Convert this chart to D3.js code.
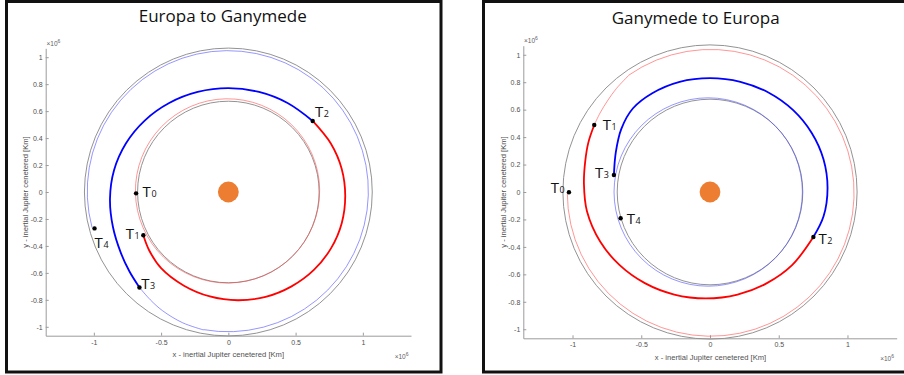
<!DOCTYPE html>
<html>
<head>
<meta charset="utf-8">
<script src="https://cdn.jsdelivr.net/npm/d3@7"></script>
<style>
  body { margin: 0; background: #fff; }
  svg { display: block; }
</style>
</head>
<body>
<svg id="chart" width="904" height="375"></svg>
<script>
// ---- axes (values in units of 10^6 km) ----
const xLim = [-1.358, 1.358];
const yLim = [-1.066, 1.066];
const xTicks = [-1, -0.5, 0, 0.5, 1];
const yTicks = [-1, -0.8, -0.6, -0.4, -0.2, 0, 0.2, 0.4, 0.6, 0.8, 1];
const titles = ["Europa to Ganymede", "Ganymede to Europa"];
const xLabel = "x - inertial Jupiter cenetered [Km]";
const yLabel = "y - inertial Jupiter cenetered [Km]";

// ---- moon orbits around Jupiter (radius) ----
const europaOrbitR = 0.675;
const ganymedeOrbitR = 1.07;

// ---- Europa to Ganymede ----
// transfer leg T1 -> T2
const e2gTransfer = [
  [-0.632, -0.321], [-0.59, -0.43], [-0.50, -0.565], [-0.33, -0.695],
  [-0.137, -0.775], [0.07, -0.803], [0.277, -0.778], [0.47, -0.70],
  [0.636, -0.578], [0.763, -0.418], [0.843, -0.231], [0.869, -0.03],
  [0.843, 0.171], [0.763, 0.358], [0.627, 0.527]
];
// approach leg T2 -> T3
const e2gApproach = [
  [0.627, 0.527], [0.44, 0.66], [0.228, 0.742], [0.0, 0.77],
  [-0.228, 0.742], [-0.44, 0.66], [-0.622, 0.53], [-0.762, 0.36],
  [-0.85, 0.162], [-0.88, -0.05], [-0.858, -0.26], [-0.80, -0.45],
  [-0.735, -0.59], [-0.661, -0.708]
];
// Europa-following loop T0 -> T1 (centre x, centre y, radius, start deg, end deg)
const e2gEuropaLoop = [-0.006, 0.008, 0.685, 181, 567];
// Ganymede-following loop after T3, ending at T4
const e2gGanymedeEntry = [
  [-0.661, -0.708], [-0.58, -0.80], [-0.49, -0.88], [-0.34, -0.97], [-0.185, -1.023]
];
const e2gGanymedeLoop = [-0.004, 0.006, 1.045, 260, 555];
const e2gEvents = [
  { id: "0", x: -0.686, y: -0.010 },
  { id: "1", x: -0.632, y: -0.321 },
  { id: "2", x: 0.627, y: 0.527 },
  { id: "3", x: -0.661, y: -0.708 },
  { id: "4", x: -0.995, y: -0.270 }
];

// ---- Ganymede to Europa ----
const g2eTransfer = [
  [-0.842, 0.488], [-0.885, 0.36], [-0.908, 0.22], [-0.917, 0.06],
  [-0.895, -0.14], [-0.798, -0.363], [-0.657, -0.533], [-0.474, -0.664],
  [-0.26, -0.747], [-0.03, -0.775], [0.2, -0.747], [0.414, -0.664],
  [0.597, -0.533], [0.752, -0.328]
];
const g2eApproach = [
  [0.752, -0.328], [0.826, -0.177], [0.855, 0.03], [0.826, 0.237],
  [0.74, 0.43], [0.605, 0.596], [0.428, 0.723], [0.221, 0.803],
  [0.0, 0.83], [-0.221, 0.803], [-0.42, 0.72], [-0.56, 0.61],
  [-0.645, 0.46], [-0.685, 0.29], [-0.699, 0.124]
];
const g2eGanymedeLoop = [0.005, -0.006, 1.043, 180, 485];
const g2eGanymedeExit = [
  [-0.593, 0.848], [-0.68, 0.755], [-0.742, 0.67], [-0.80, 0.575], [-0.842, 0.488]
];
const g2eEuropaLoop = [-0.013, 0.0, 0.685, 0, 360];
const g2eEvents = [
  { id: "0", x: -1.026, y: -0.002 },
  { id: "1", x: -0.842, y: 0.488 },
  { id: "2", x: 0.752, y: -0.328 },
  { id: "3", x: -0.699, y: 0.124 },
  { id: "4", x: -0.650, y: -0.191 }
];

// ---- layout ----
const svg = d3.select("#chart");
const RED = "#ff0000", BLUE = "#0000ff";
const thinRed = { stroke: "#ff5050", width: 1, opacity: 0.6 };
const thinBlue = { stroke: "#5050ff", width: 1, opacity: 0.6 };

const panels = [
  {
    frame: [6.5, 1.5, 434.5, 370.5],
    xRange: [45.7, 411], yRange: [335.7, 48.3],
    title: { text: titles[0], x: 222.7, y: 21.7 },
    yLab: { x: 25.5, y: 192 }, xLab: { x: 228.3, y: 356.5 },
    expTop: { x: 46.5, y: 45.5 }, expBottom: { x: 408.5, y: 359 },
    thin: [
      { loop: e2gEuropaLoop, style: thinRed },
      { loop: e2gGanymedeLoop, style: thinBlue },
      { pts: e2gGanymedeEntry, style: thinBlue }
    ],
    red: e2gTransfer, blue: e2gApproach, events: e2gEvents,
    offsets: { "0": [6.5, 3.4], "1": [-17.6, 4], "2": [2.3, -4.3], "3": [1.7, 1.7], "4": [0, 20] }
  },
  {
    frame: [483.5, 1.5, 430, 370.5],
    xRange: [523.3, 896.7], yRange: [338.3, 45.7],
    title: { text: titles[1], x: 695.7, y: 24 },
    yLab: { x: 503, y: 192 }, xLab: { x: 710.5, y: 360 },
    expTop: { x: 524, y: 43 }, expBottom: { x: 894, y: 360.5 },
    thin: [
      { loop: g2eGanymedeLoop, style: thinRed },
      { pts: g2eGanymedeExit, style: thinRed },
      { loop: g2eEuropaLoop, style: thinBlue }
    ],
    red: g2eTransfer, blue: g2eApproach, events: g2eEvents,
    offsets: { "0": [-18.3, 1], "1": [8.4, 5], "2": [5, 7], "3": [-19, 3.3], "4": [6, 5.5] }
  }
];

const tickFmt = d => String(d);

panels.forEach(p => {
  const g = svg.append("g");
  const x = d3.scaleLinear().domain(xLim).range(p.xRange);
  const y = d3.scaleLinear().domain(yLim).range(p.yRange);
  const k = x(1) - x(0);

  // frame
  g.append("rect")
    .attr("x", p.frame[0]).attr("y", p.frame[1])
    .attr("width", p.frame[2]).attr("height", p.frame[3])
    .attr("fill", "none").attr("stroke", "#111").attr("stroke-width", 3);

  // title
  g.append("text")
    .attr("x", p.title.x).attr("y", p.title.y)
    .attr("text-anchor", "middle")
    .style("font-family", "'Open Sans', sans-serif")
    .style("font-size", "17px").attr("fill", "#111")
    .text(p.title.text);

  // axes with inward ticks
  const xAxis = d3.axisBottom(x).tickValues(xTicks).tickFormat(tickFmt)
    .tickSizeInner(-3).tickSizeOuter(0).tickPadding(4);
  const yAxis = d3.axisLeft(y).tickValues(yTicks).tickFormat(tickFmt)
    .tickSizeInner(-3).tickSizeOuter(0).tickPadding(3);

  const gx = g.append("g").attr("transform", `translate(0,${p.yRange[0]})`).call(xAxis);
  const gy = g.append("g").attr("transform", `translate(${p.xRange[0]},0)`).call(yAxis);
  [gx, gy].forEach(a => {
    a.select(".domain").attr("stroke", "#9c9c9c").attr("stroke-width", 1);
    a.selectAll(".tick line").attr("stroke", "#9c9c9c");
    a.selectAll(".tick text")
      .style("font-family", "'Liberation Sans', Arial, sans-serif")
      .style("font-size", "7px").attr("fill", "#505050");
  });

  // axis titles
  g.append("text")
    .attr("transform", `translate(${p.yLab.x},${p.yLab.y}) rotate(-90)`)
    .attr("text-anchor", "middle").attr("dy", "0.35em")
    .style("font-family", "'Liberation Sans', Arial, sans-serif")
    .style("font-size", "7.6px").attr("fill", "#505050")
    .text(yLabel);
  g.append("text")
    .attr("x", p.xLab.x).attr("y", p.xLab.y)
    .attr("text-anchor", "middle")
    .style("font-family", "'Liberation Sans', Arial, sans-serif")
    .style("font-size", "7.6px").attr("fill", "#505050")
    .text(xLabel);

  // x10^6 exponent labels
  [[p.expTop, "start"], [p.expBottom, "end"]].forEach(([pos, anchor]) => {
    const t = g.append("text")
      .attr("x", pos.x).attr("y", pos.y).attr("text-anchor", anchor)
      .style("font-family", "'Liberation Sans', Arial, sans-serif")
      .style("font-size", "6.5px").attr("fill", "#606060");
    t.append("tspan").text("\u00d710");
    t.append("tspan").attr("dy", "-2.6").style("font-size", "5px").text("6");
  });

  // moon orbits
  [europaOrbitR, ganymedeOrbitR].forEach(r => {
    g.append("circle")
      .attr("cx", x(0)).attr("cy", y(0)).attr("r", r * k)
      .attr("fill", "none").attr("stroke", "#939393").attr("stroke-width", 1);
  });

  // thin loops that follow the moons
  const line = d3.line().x(d => x(d[0])).y(d => y(d[1])).curve(d3.curveCatmullRom);
  p.thin.forEach(t => {
    let dPath;
    if (t.loop) {
      const [cx, cy, r, a0, a1] = t.loop;
      const path = d3.path();
      const s0 = -a0 * Math.PI / 180, s1 = -a1 * Math.PI / 180;
      path.moveTo(x(cx) + r * k * Math.cos(s0), y(cy) + r * k * Math.sin(s0));
      path.arc(x(cx), y(cy), r * k, s0, s1, true);
      dPath = path.toString();
    } else {
      dPath = line(t.pts);
    }
    g.append("path").attr("d", dPath)
      .attr("fill", "none").attr("stroke", t.style.stroke)
      .attr("stroke-width", t.style.width).attr("stroke-opacity", t.style.opacity);
  });

  // transfer (red) and approach (blue) legs
  g.append("path").attr("d", line(p.red))
    .attr("fill", "none").attr("stroke", RED).attr("stroke-width", 1.8);
  g.append("path").attr("d", line(p.blue))
    .attr("fill", "none").attr("stroke", BLUE).attr("stroke-width", 1.8);

  // Jupiter
  g.append("circle").attr("cx", x(0)).attr("cy", y(0)).attr("r", 10.4)
    .attr("fill", "#ed7d31");

  // event markers and labels
  g.selectAll(".ev").data(p.events).join("circle")
    .attr("cx", d => x(d.x)).attr("cy", d => y(d.y)).attr("r", 2.2)
    .attr("fill", "#000");
  p.events.forEach(d => {
    const off = p.offsets[d.id];
    const t = g.append("text")
      .attr("x", x(d.x) + off[0]).attr("y", y(d.y) + off[1])
      .style("font-family", "'Open Sans', sans-serif").attr("fill", "#111");
    t.append("tspan").style("font-size", "15px").text("T");
    t.append("tspan").attr("dx", "0.6").style("font-size", "9px").text(d.id);
  });
});
</script>
</body>
</html>
